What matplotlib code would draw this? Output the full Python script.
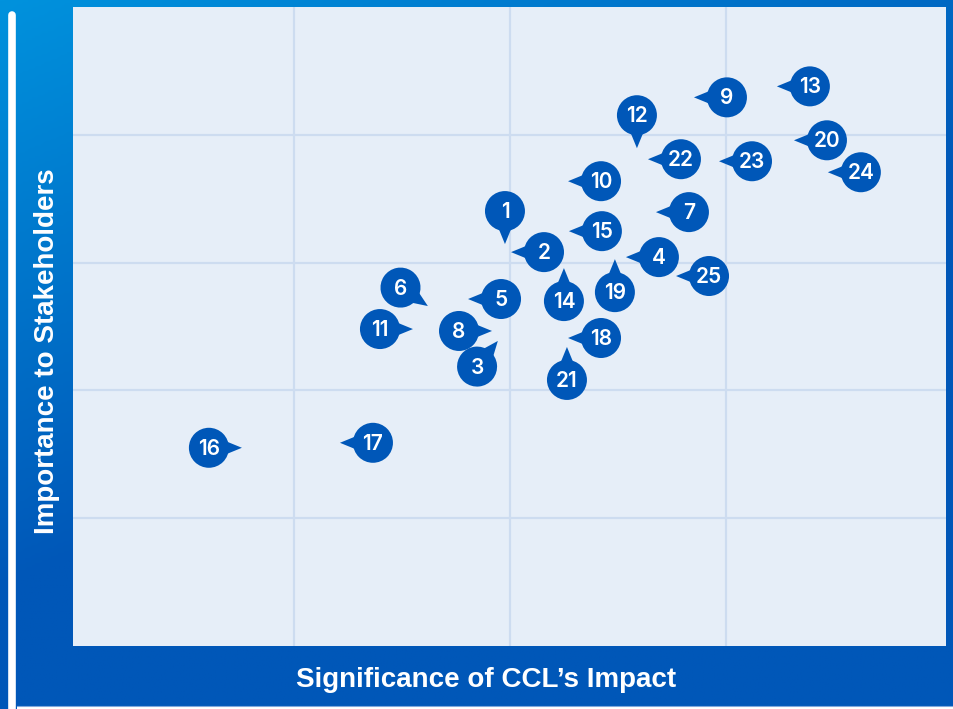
import matplotlib.pyplot as plt
import numpy as np
from matplotlib.patches import Circle, Polygon, Rectangle
from matplotlib.transforms import Affine2D, ScaledTranslation
from matplotlib.colors import LinearSegmentedColormap

# materiality matrix: topic number, impact (x), stakeholder importance (y)
topics = [str(i) for i in range(1, 26)]
impact = [1.977, 2.005, 1.944, 2.537, 1.806, 1.620, 2.676, 1.917, 2.852, 2.269,
          1.551, 2.588, 3.236, 2.250, 2.273, 0.759, 1.213, 2.269, 2.486, 3.315,
          2.264, 2.639, 2.968, 3.472, 2.769]
importance = [3.145, 3.082, 2.387, 3.043, 2.715, 2.660, 3.395, 2.465, 4.293, 3.637,
              2.480, 3.895, 4.379, 2.957, 3.246, 1.551, 1.590, 2.410, 3.027, 3.957,
              2.340, 3.809, 3.793, 3.707, 2.895]
# side of the point where the bubble sits (degrees)
bubble_side = [90, 0, -129, 0, 0, 146, 0, 180, 0, 0,
               180, 90, 0, -90, 0, 180, 0, 0, -90, 0,
               -90, 0, 0, 0, 0]

dark = '#0057b8'
W, H = 954, 709

fig = plt.figure(figsize=(W / 100, H / 100), dpi=100)

# gradient frame behind everything
bg = fig.add_axes([0, 0, 1, 1], zorder=0)
bg.set_axis_off()
gx, gy = np.meshgrid(np.linspace(0, 1, 300), np.linspace(0, 1, 300))
shade = np.clip(gx * 0.7 + gy * 1.2, 0, 1)
cmap = LinearSegmentedColormap.from_list('frame', ['#0092dd', dark])
bg.imshow(shade, cmap=cmap, extent=(0, W, H, 0), aspect='auto', vmin=0, vmax=1)
bg.set_xlim(0, W)
bg.set_ylim(H, 0)
bg.add_patch(Rectangle((17, 706), W - 17, 3, color='white', lw=0))
bg.plot([17, W], [706, 706], color='#7fa8dc', lw=0.8)
bg.plot([12.5, 12.5], [15, H + 5], color='white', lw=5.5, solid_capstyle='round')

ax = fig.add_axes([73 / W, 63 / H, 873 / W, 639 / H], zorder=1)
ax.set_facecolor('#e6eef8')
ax.set_xlim(-0.023, 4.019)
ax.set_ylim(0, 5)
ax.set_xticks([1, 2, 3])
ax.set_yticks([1, 2, 3, 4])
ax.tick_params(length=0, labelbottom=False, labelleft=False)
ax.set_axisbelow(True)
ax.grid(color='#cddcf0', lw=1.6, zorder=0)
for s in ax.spines.values():
    s.set_visible(False)

dist, rad = 33, 20
for lab, x, y, ang in zip(topics, impact, importance, bubble_side):
    tr = Affine2D().rotate_deg(ang) + ScaledTranslation(x, y, ax.transData)
    ax.add_patch(Polygon([(0, 0), (22, 9), (22, -9)], closed=True, zorder=3,
                         facecolor=dark, edgecolor='none', transform=tr, clip_on=False))
    ax.add_patch(Circle((dist, 0), rad, facecolor=dark, edgecolor='none', zorder=3,
                        transform=tr, clip_on=False))
    a = np.deg2rad(ang)
    ax.annotate(lab, xy=(x, y), xytext=(dist * np.cos(a), dist * np.sin(a) - 1),
                textcoords='offset pixels', ha='center', va='center', zorder=4,
                color='white', fontsize=15, fontweight='semibold', family='Inter')

fig.text(486 / W, 1 - 680 / H, 'Significance of CCL\u2019s Impact', ha='center', va='center',
         color='white', fontsize=20, fontweight='bold', family='Liberation Sans')
fig.text(47 / W, 1 - 351 / H, 'Importance to Stakeholders', ha='center', va='center',
         rotation=90, color='white', fontsize=20, fontweight='bold', family='Liberation Sans')

fig.savefig('out.png', dpi=100)
